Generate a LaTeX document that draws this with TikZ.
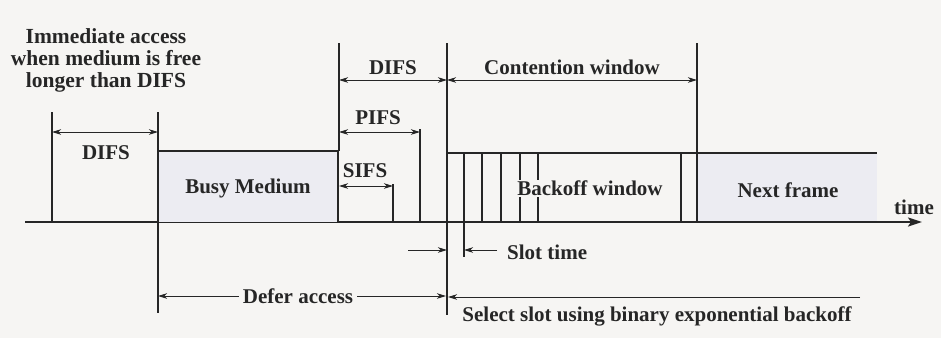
\documentclass[tikz,border=0pt]{standalone}
\usepackage{fontspec}
\setmainfont{Liberation Serif}
\usetikzlibrary{arrows.meta}
\definecolor{paper}{HTML}{F6F5F3}
\definecolor{boxfill}{HTML}{ECECF2}
\definecolor{ink}{HTML}{262626}
\begin{document}
\begin{tikzpicture}[x=1pt,y=-1pt,
  thinline/.style={line width=1.1pt, draw=ink},
  heavyline/.style={line width=2pt, draw=ink},
  tip/.tip={Stealth[length=9pt,width=5.5pt,inset=2.5pt]},
  dimarrow/.style={line width=1pt, draw=ink, tip-tip},
  onearrow/.style={line width=1pt, draw=ink, -tip},
  lbl/.style={font=\bfseries\fontsize{21}{21.5}\selectfont, text=ink, inner sep=0pt}]
\useasboundingbox[fill=paper] (0,0) rectangle (941,338);

% time axis
\coordinate (axL) at (25,222);
\coordinate (axR) at (922,222);
\draw[heavyline, -{Stealth[length=14pt,width=9pt,inset=3pt]}] (axL) -- (axR);
\node[lbl] (time) at (914,207) {time};

% left DIFS
\coordinate (a1) at (52,112);  \coordinate (a1b) at (52,222);
\coordinate (a2) at (158,112); \coordinate (a2b) at (158,313);
\draw[thinline] (a1) -- (a1b);
\draw[thinline] (a2) -- (a2b);
\coordinate (d1l) at (52,132); \coordinate (d1r) at (158,132);
\draw[dimarrow] (d1l) -- (d1r);
\node[lbl] (difsL) at (106,153) {DIFS};

\node[lbl, align=center, font=\bfseries\fontsize{21.5}{22}\selectfont] (imm) at (106,60) {Immediate access\\when medium is free\\longer than DIFS};

% busy medium
\draw[heavyline, fill=boxfill] (158,222) -- (158,151) -- (338,151) -- (338,222);
\node[lbl] (busy) at (248,188) {Busy Medium};

% line at end of busy medium
\coordinate (b0) at (339,43);
\coordinate (b1) at (339,151);
\draw[thinline] (b0) -- (b1);

% SIFS
\coordinate (s0) at (339,186); \coordinate (s1) at (393,186);
\coordinate (s1t) at (393,184); \coordinate (s1b) at (393,222);
\draw[dimarrow] (s0) -- (s1);
\draw[thinline] (s1t) -- (s1b);
\node[lbl] (sifs) at (365,171) {SIFS};

% PIFS
\coordinate (p0) at (339,132); \coordinate (p1) at (420,132);
\coordinate (p1t) at (420,129); \coordinate (p1b) at (420,222);
\draw[dimarrow] (p0) -- (p1);
\draw[thinline] (p1t) -- (p1b);
\node[lbl] (pifs) at (378,118) {PIFS};

% DIFS (top)
\coordinate (q0) at (339,80); \coordinate (q1) at (447,80);
\draw[dimarrow] (q0) -- (q1);
\node[lbl] (difsT) at (393,68) {DIFS};

% contention window
\coordinate (c0t) at (447,43); \coordinate (c0b) at (447,315);
\coordinate (c1t) at (697,43); \coordinate (c1) at (697,153);
\draw[thinline] (c0t) -- (c0b);
\draw[thinline] (c1t) -- (c1);
\coordinate (cw0) at (447,80); \coordinate (cw1) at (697,80);
\draw[dimarrow] (cw0) -- (cw1);
\node[lbl] (cw) at (572,67) {Contention window};

% next frame fill
\fill[boxfill] (697,153) rectangle (877,221);
\node[lbl] (next) at (788,190) {Next frame};

% backoff window
\draw[heavyline] (447,222) -- (447,153) -- (877,153);
\foreach \x in {464,482,501,520,538,681,697}
  \draw[line width=1.6pt, draw=ink] (\x,153) -- (\x,222);
\node[lbl, fill=paper, inner ysep=1pt] (backoff) at (590,188) {Backoff window};

% slot time
\coordinate (st0) at (464,222); \coordinate (st1) at (464,257);
\draw[thinline] (st0) -- (st1);
\coordinate (sa0) at (408,250); \coordinate (sa1) at (447,250);
\coordinate (sb0) at (497,250); \coordinate (sb1) at (464,250);
\draw[onearrow] (sa0) -- (sa1);
\draw[onearrow] (sb0) -- (sb1);
\node[lbl, anchor=west] (slot) at (507,252) {Slot time};

% defer access
\coordinate (da0) at (158,296); \coordinate (da1) at (446,296);
\draw[dimarrow] (da0) -- (da1);
\node[lbl, fill=paper, inner xsep=4pt, inner ysep=2pt] (defer) at (298,296) {Defer access};

% select slot
\coordinate (ss0) at (860,297); \coordinate (ss1) at (448,297);
\draw[onearrow] (ss0) -- (ss1);
\node[lbl] (select) at (657,316) {Select slot using binary exponential backoff};
\end{tikzpicture}
\end{document}
